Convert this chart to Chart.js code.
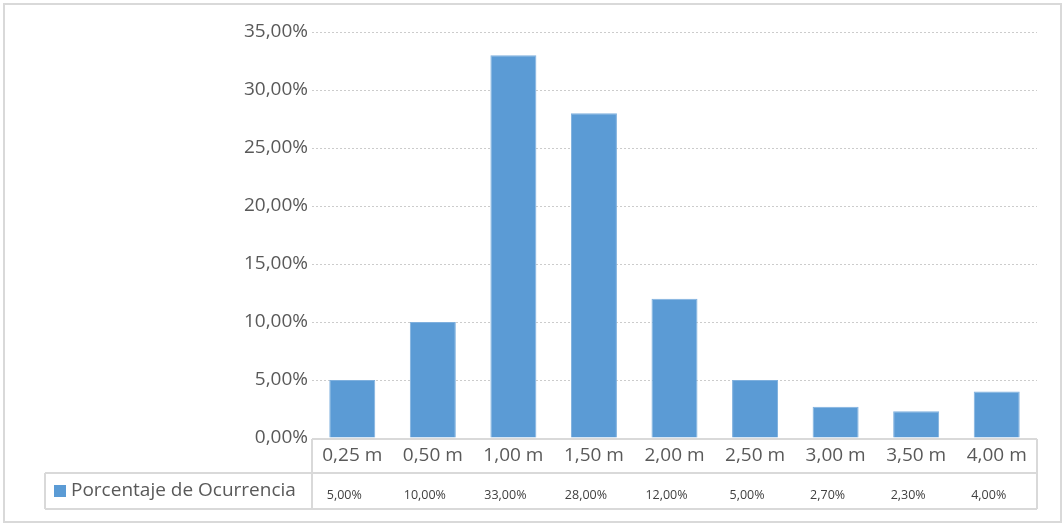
<!DOCTYPE html>
<html>
<head>
<meta charset="utf-8">
<style>
  html, body { margin: 0; padding: 0; background: #ffffff; }
  #wrap { position: relative; width: 1062px; height: 523px; }
</style>
<script src="https://cdn.jsdelivr.net/npm/chart.js@4.4.1/dist/chart.umd.min.js"></script>
</head>
<body>
<div id="wrap"><canvas id="chart" width="1062" height="523"></canvas></div>
<script>
// Wave height classes and their share of occurrence (%)
const categories = ['0,25 m', '0,50 m', '1,00 m', '1,50 m', '2,00 m', '2,50 m', '3,00 m', '3,50 m', '4,00 m'];
const seriesName = 'Porcentaje de Ocurrencia';
const occurrence = [5.0, 10.0, 33.0, 28.0, 12.0, 5.0, 2.7, 2.3, 4.0];
const yTicks = [0, 5, 10, 15, 20, 25, 30, 35];

const FONT = '"Open Sans", "DejaVu Sans", sans-serif';
const BAR = '#5B9BD5';
const LINE = '#d9d9d9';
const TEXT = '#595959';

function pct(v) {
  return v.toFixed(2).replace('.', ',') + '%';
}

// Data table under the plot: category row, legend key and value row
const dataTable = {
  id: 'dataTable',
  afterDraw(chart) {
    const ctx = chart.ctx;
    const x = chart.scales.x;
    const area = chart.chartArea;
    const top = area.bottom + 1;
    const mid = top + 34;
    const bot = mid + 36;
    const keyLeft = 45;

    ctx.save();
    ctx.strokeStyle = LINE;
    ctx.lineWidth = 2;
    ctx.beginPath();
    ctx.moveTo(area.left, top); ctx.lineTo(area.right, top);
    ctx.moveTo(keyLeft, mid); ctx.lineTo(area.right, mid);
    ctx.moveTo(keyLeft, bot); ctx.lineTo(area.right, bot);
    ctx.moveTo(area.left, top); ctx.lineTo(area.left, bot);
    ctx.moveTo(area.right, top); ctx.lineTo(area.right, bot);
    ctx.moveTo(keyLeft, mid); ctx.lineTo(keyLeft, bot);
    ctx.stroke();

    // legend key
    const cy = (mid + bot) / 2;
    ctx.fillStyle = BAR;
    ctx.fillRect(54, cy - 6, 12, 12);
    ctx.fillStyle = TEXT;
    ctx.font = '19px ' + FONT;
    ctx.textAlign = 'left';
    ctx.textBaseline = 'middle';
    ctx.fillText(seriesName, 71, cy);

    // values
    ctx.font = '12.5px ' + FONT;
    ctx.fillStyle = '#404040';
    ctx.textAlign = 'center';
    occurrence.forEach((v, i) => {
      ctx.fillText(pct(v), x.getPixelForValue(i) - 8, cy + 4);
    });

    // outer chart frame
    ctx.lineWidth = 2;
    ctx.strokeRect(4, 4, 1057, 518);
    ctx.restore();
  }
};

new Chart(document.getElementById('chart'), {
  type: 'bar',
  data: {
    labels: categories,
    datasets: [{
      label: seriesName,
      data: occurrence,
      backgroundColor: BAR,
      borderColor: '#7fb0de',
      borderWidth: 1,
      categoryPercentage: 1,
      barPercentage: 0.571
    }]
  },
  options: {
    responsive: false,
    animation: false,
    devicePixelRatio: 1,
    layout: { padding: { left: 0, right: 25, top: 32, bottom: 0 } },
    plugins: {
      legend: { display: false },
      tooltip: { enabled: false }
    },
    scales: {
      x: {
        grid: { display: false, drawTicks: false },
        border: { display: false },
        ticks: {
          color: TEXT,
          font: { family: FONT, size: 19 },
          padding: 6,
          maxRotation: 0,
          autoSkip: false
        },
        afterFit(s) { s.height = 85; }
      },
      y: {
        min: 0,
        max: 35,
        afterBuildTicks(s) { s.ticks = yTicks.map(v => ({ value: v })); },
        grid: {
          color: '#cccccc',
          lineWidth: 1,
          drawTicks: false
        },
        border: { display: false, dash: [2, 2] },
        ticks: {
          color: TEXT,
          font: { family: FONT, size: 19 },
          padding: 4,
          callback: v => pct(v)
        },
        afterFit(s) { s.width = 312; }
      }
    }
  },
  plugins: [dataTable]
});
</script>
</body>
</html>
